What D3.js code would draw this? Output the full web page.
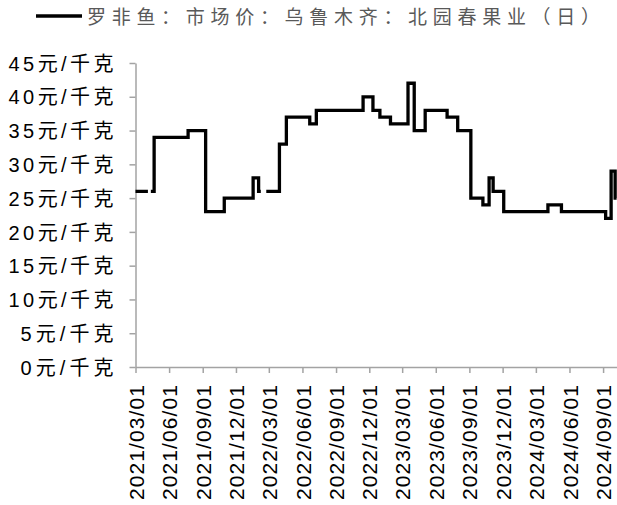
<!DOCTYPE html>
<html>
<head>
<meta charset="utf-8">
<script src="https://cdn.jsdelivr.net/npm/d3@7"></script>
<style>
  html, body { margin: 0; padding: 0; background: #fff; }
  svg { display: block; }
</style>
</head>
<body>
<svg id="chart" width="617" height="505"></svg>
<script>
// ---- data ----
const seriesName = "罗非鱼：市场价：乌鲁木齐：北园春果业（日）";
const dates = [
  "2021-03-01","2021-04-04","2021-04-05","2021-04-12","2021-04-21","2021-07-23",
  "2021-09-09","2021-10-30","2022-01-17","2022-02-01","2022-02-07","2022-02-08",
  "2022-02-22","2022-03-30","2022-04-18","2022-06-21","2022-07-09","2022-11-14",
  "2022-12-11","2022-12-30","2023-01-28","2023-03-17","2023-04-03","2023-05-03",
  "2023-07-02","2023-07-31","2023-09-05","2023-10-08","2023-10-25","2023-11-05",
  "2023-12-04","2024-04-03","2024-05-10","2024-09-08","2024-09-23","2024-10-04",
  "2024-10-08"
];
const prices = [
  26, 26, null, 26, 34, 35,
  23, 25, 28, 26, 26, null,
  26, 33, 37, 36, 38, 40,
  38, 37, 36, 42, 35, 38,
  37, 35, 25, 24, 28, 26,
  23, 24, 23, 22, 29, 25,
  25
];
const xTickLabels = [
  "2021/03/01","2021/06/01","2021/09/01","2021/12/01","2022/03/01","2022/06/01",
  "2022/09/01","2022/12/01","2023/03/01","2023/06/01","2023/09/01","2023/12/01",
  "2024/03/01","2024/06/01","2024/09/01"
];
const yTicks = [0, 5, 10, 15, 20, 25, 30, 35, 40, 45];
const yUnit = "元/千克";

// ---- layout ----
const parse = d3.timeParse("%Y-%m-%d");
const parseTick = d3.timeParse("%Y/%m/%d");
const data = dates.map((d, i) => ({ date: parse(d), value: prices[i] }));

const svg = d3.select("#chart");
const axisColor = "#a3a3a3";
const latin = "'Liberation Sans', Arial, 'Noto Sans CJK SC', sans-serif";

const x = d3.scaleTime()
  .domain([parse("2021-03-01"), parse("2024-10-08")])
  .range([135.5, 616.6]);
const y = d3.scaleLinear().domain([0, 45]).range([367, 63]);

// y axis
const gy = svg.append("g")
  .attr("transform", "translate(135.5,0)")
  .call(d3.axisLeft(y).tickValues(yTicks).tickSizeInner(6).tickSizeOuter(0).tickPadding(16)
    .tickFormat(d => d + yUnit));
gy.selectAll("path,line").attr("stroke", axisColor).attr("stroke-width", 1.5);
gy.selectAll("text")
  .attr("fill", "#000")
  .style("font-family", latin)
  .style("font-size", "20px")
  .attr("dy", "0.36em")
  .attr("textLength", d => d >= 10 ? 105 : 93)
  .attr("lengthAdjust", "spacing");

// x axis
const gx = svg.append("g")
  .attr("transform", "translate(0,367)")
  .call(d3.axisBottom(x).tickValues(xTickLabels.map(parseTick)).tickSizeInner(6).tickSizeOuter(0)
    .tickFormat((d, i) => xTickLabels[i]));
gx.selectAll("path,line").attr("stroke", axisColor).attr("stroke-width", 1.5);
gx.selectAll("text")
  .attr("fill", "#000")
  .style("font-family", latin)
  .style("font-size", "21px")
  .attr("transform", "rotate(-90)")
  .attr("x", -18)
  .attr("y", 0)
  .attr("dy", "0.36em")
  .attr("text-anchor", "end")
  .attr("textLength", 115)
  .attr("lengthAdjust", "spacing");

// series line
const line = d3.line()
  .defined(d => d.value !== null)
  .x(d => x(d.date))
  .y(d => y(d.value))
  .curve(d3.curveStepAfter);

svg.append("path")
  .datum(data)
  .attr("d", line)
  .attr("fill", "none")
  .attr("stroke", "#000")
  .attr("stroke-width", 3.3)
  .attr("stroke-linejoin", "miter");

// legend
const lg = svg.append("g");
lg.append("line")
  .attr("x1", 36).attr("x2", 82).attr("y1", 16).attr("y2", 16)
  .attr("stroke", "#000").attr("stroke-width", 3.3);
lg.append("text")
  .attr("x", 87).attr("y", 17)
  .attr("dy", "0.36em")
  .attr("fill", "#595959")
  .style("font-family", "'Noto Sans CJK SC', sans-serif")
  .style("font-size", "19px")
  .attr("textLength", 513)
  .attr("lengthAdjust", "spacing")
  .text(seriesName);
</script>
</body>
</html>
